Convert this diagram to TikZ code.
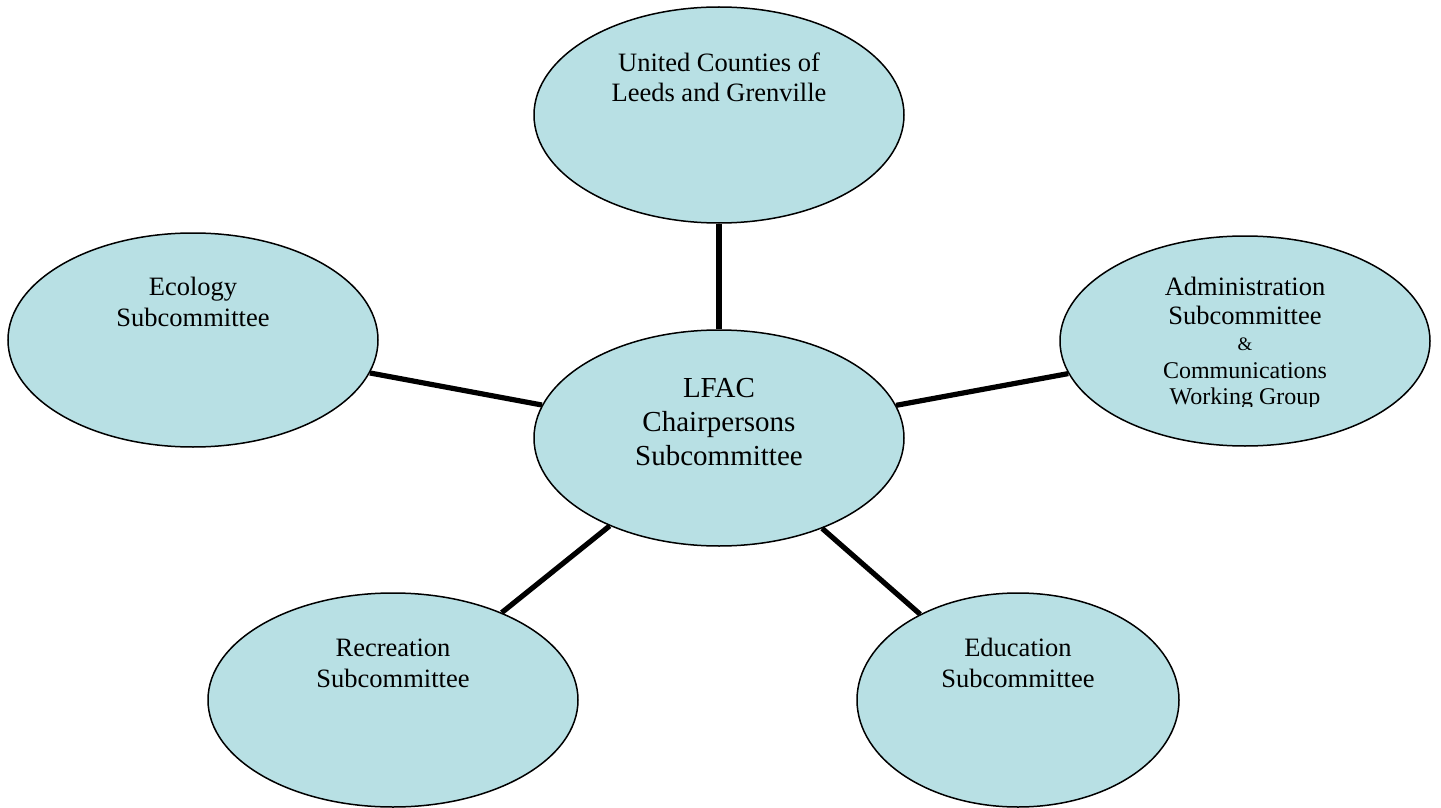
\documentclass[tikz,border=0pt]{standalone}
\usepackage{fontspec}
\setmainfont{Liberation Serif}
\usetikzlibrary{shapes.geometric}
\definecolor{bubble}{RGB}{184,224,228}
\tikzset{
  bub/.style={ellipse, draw=black, line width=0.75pt, fill=bubble, inner sep=0pt,
              minimum width=185pt, minimum height=107pt},
  conn/.style={draw=black, line width=2.6pt},
  lbl/.style={anchor=base, inner sep=0pt, font=\fontsize{13.25pt}{15.5pt}\selectfont},
  lblbig/.style={anchor=base, inner sep=0pt, font=\fontsize{14.5pt}{17pt}\selectfont},
}
\newcommand{\stk}[1]{\begin{tabular}[t]{@{}c@{}}#1\end{tabular}}
\begin{document}
\begin{tikzpicture}[x=0.5pt, y=-0.5pt]
\useasboundingbox (0,0) rectangle (1441,808);
% ellipses
\node[bub, minimum height=108pt] (ucl) at (719,115) {};
\node[bub] (eco) at (193,340) {};
\node[bub, minimum height=108pt] (ctr) at (719,438) {};
\node[bub, minimum height=105pt] (adm) at (1245,341) {};
\node[bub] (rec) at (393,700) {};
\node[bub, minimum width=161pt] (edu) at (1018,700) {};
% connectors
\draw[conn] (ctr) -- (ucl);
\draw[conn] (ctr) -- (eco);
\draw[conn] (ctr) -- (adm);
\draw[conn] (ctr) -- (rec);
\draw[conn] (ctr) -- (edu);
% labels
\node[lbl, font=\fontsize{13.25pt}{15pt}\selectfont] (uclT) at (719,72) {\stk{United Counties of\\Leeds and Grenville}};
\node[lbl] (ecoT) at (193,295) {\stk{Ecology\\Subcommittee}};
\node[lblbig] (ctrT) at (719,397) {\stk{LFAC\\Chairpersons\\Subcommittee}};
\node[lbl, font=\fontsize{13.25pt}{14.5pt}\selectfont] (admT) at (1245,295) {\stk{Administration\\Subcommittee}};
\node[lbl, font=\fontsize{9.5pt}{11pt}\selectfont] (ampT) at (1245,350) {\&};
\begin{scope}
\clip (1100,300) rectangle (1400,406.5);
\node[lbl, font=\fontsize{12pt}{13pt}\selectfont] (comT) at (1245,378) {\stk{Communications\\Working Group}};
\end{scope}
\node[lbl] (recT) at (393,656) {\stk{Recreation\\Subcommittee}};
\node[lbl] (eduT) at (1018,656) {\stk{Education\\Subcommittee}};
\end{tikzpicture}
\end{document}
